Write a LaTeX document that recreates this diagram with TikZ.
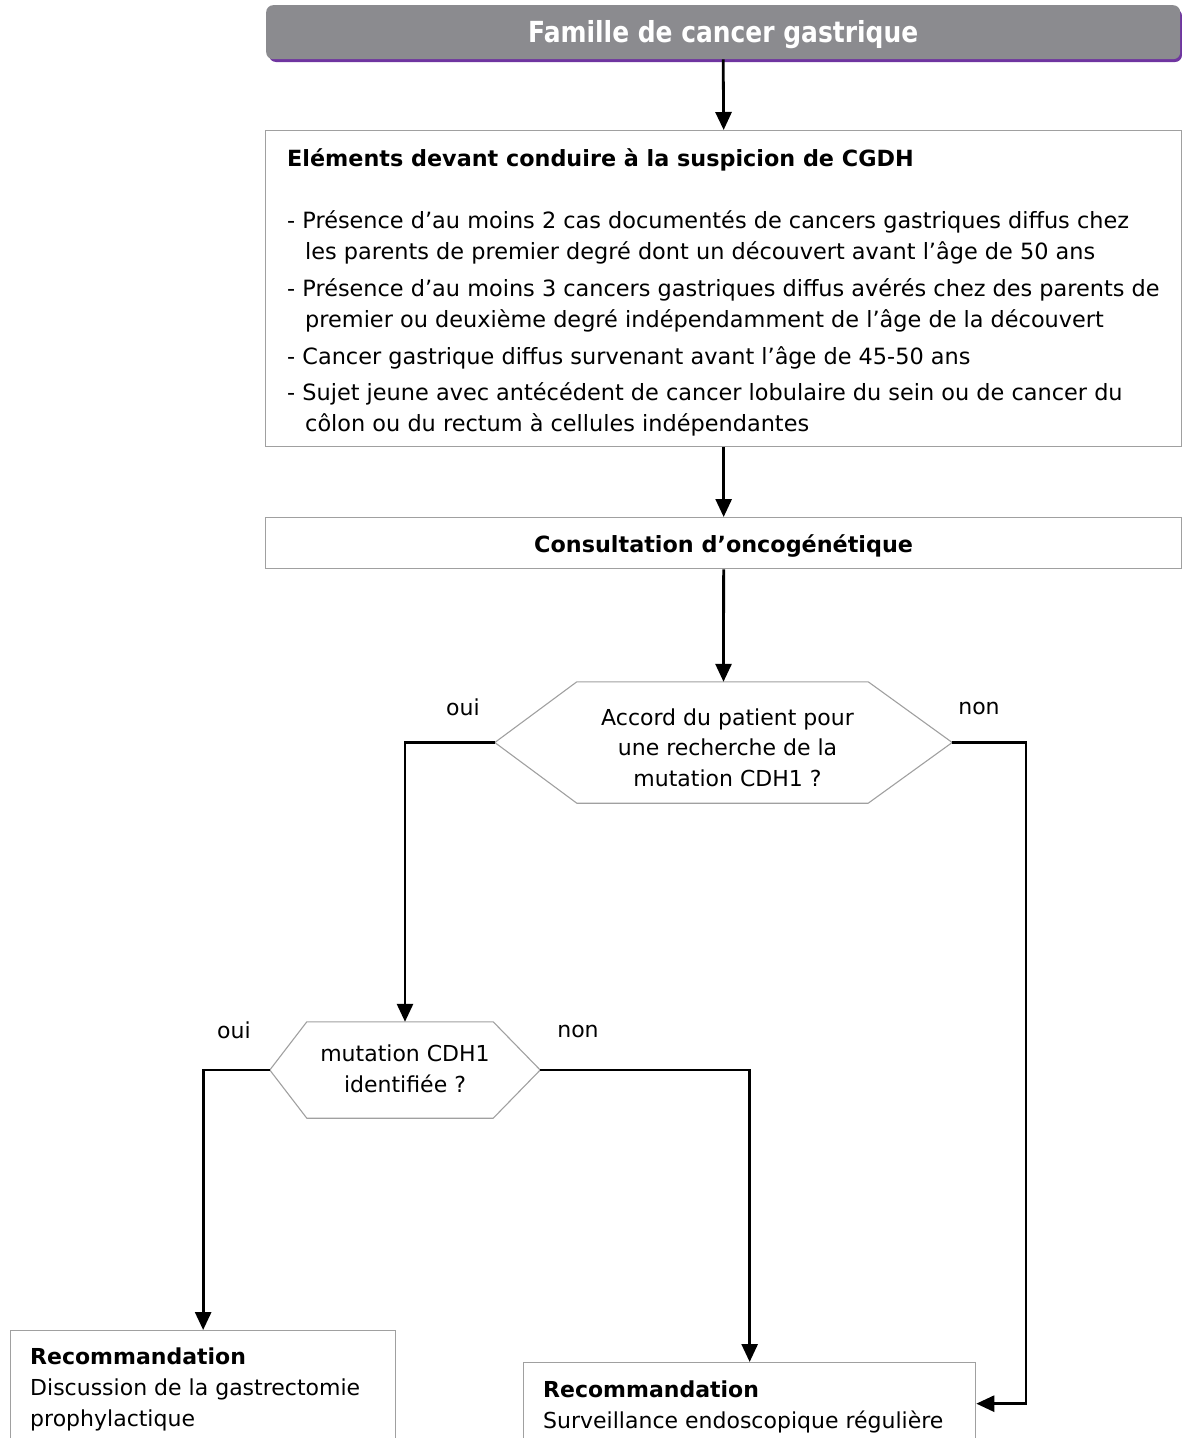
\documentclass[tikz,border=0pt]{standalone}
\usepackage{fontspec}
\setmainfont{DejaVu Sans}
\newfontfamily\titlefont{DejaVu Sans}[FakeStretch=0.86]
\usetikzlibrary{arrows.meta}
\definecolor{boxgray}{HTML}{A0A0A0}
\definecolor{titlegray}{HTML}{8B8B8F}
\definecolor{edgepurple}{HTML}{6F35A0}
\begin{document}
\begin{tikzpicture}[x=1pt,y=-1pt,
  box/.style={draw=boxgray,line width=1.3pt,fill=white,inner sep=0pt},
  hexline/.style={draw=boxgray,line width=1.1pt},
  conn/.style={line width=2.8pt,-{Triangle[length=18pt,width=16pt]}},
  txt/.style={inner sep=0pt,font=\fontsize{22}{31}\selectfont},
  btxt/.style={inner sep=0pt,font=\bfseries\fontsize{22.3}{31}\selectfont},
  hexnode/.style={inner sep=0pt,align=center,font=\fontsize{22}{30.5}\selectfont}]
\useasboundingbox (0,0) rectangle (1182,1438);
\clip (0,0) rectangle (1182,1438);
% title
\fill[edgepurple, rounded corners=7pt] (269,9) rectangle (1182,62);
\node[fill=titlegray, rounded corners=7pt, minimum width=914pt, minimum height=54pt,
  anchor=north west, text=white, inner sep=0pt, text height=24pt, text depth=3pt,
  font=\titlefont\bfseries\fontsize{29}{32}\selectfont] (fam) at (266,5) {Famille de cancer gastrique};
% elements box
\node[box, minimum width=916pt, minimum height=316pt, anchor=north west] (elem) at (265,130) {};
\node[btxt, anchor=base west] (elemtitle) at (287,166) {Eléments devant conduire à la suspicion de CGDH};
\node[txt, anchor=north west, align=left, font=\fontsize{22.4}{31}\selectfont] (elemlist) at (287,210)
  {- Présence d’au moins 2 cas documentés de cancers gastriques diffus chez\\
   \hspace*{18pt}les parents de premier degré dont un découvert avant l’âge de 50 ans\\[6pt]
   - Présence d’au moins 3 cancers gastriques diffus avérés chez des parents de\\
   \hspace*{18pt}premier ou deuxième degré indépendamment de l’âge de la découvert\\[6pt]
   - Cancer gastrique diffus survenant avant l’âge de 45-50 ans\\[5pt]
   - Sujet jeune avec antécédent de cancer lobulaire du sein ou de cancer du\\
   \hspace*{18pt}côlon ou du rectum à cellules indépendantes};
% consultation
\node[box, minimum width=916pt, minimum height=51pt, anchor=north west, text height=20pt, text depth=2pt,
  font=\bfseries\fontsize{22.3}{26}\selectfont] (consult) at (265,517) {Consultation d’oncogénétique};
% decision 1
\node[minimum width=457pt, minimum height=121pt, inner sep=0pt] (accord) at (723.5,742.5) {};
\draw[hexline] (accord.west) -- ([xshift=82pt]accord.north west) -- ([xshift=-84pt]accord.north east)
  -- (accord.east) -- ([xshift=-84pt]accord.south east) -- ([xshift=82pt]accord.south west) -- cycle;
\node[hexnode] (accordtext) at ([shift={(4pt,-5pt)}]accord.center)
  {Accord du patient pour\\une recherche de la\\mutation CDH1 ?};
\node[txt] (oui1) at (463,707) {oui};
\node[txt] (non1) at (979,708) {non};
% decision 2
\node[minimum width=270pt, minimum height=96pt, inner sep=0pt] (mut) at (405,1070) {};
\draw[hexline] (mut.west) -- ([xshift=37pt]mut.north west) -- ([xshift=-47pt]mut.north east)
  -- (mut.east) -- ([xshift=-47pt]mut.south east) -- ([xshift=37pt]mut.south west) -- cycle;
\node[hexnode] (muttext) at ([shift={(0pt,1pt)}]mut.center) {mutation CDH1\\identifiée ?};
\node[txt] (oui2) at (234,1030) {oui};
\node[txt] (non2) at (578,1031) {non};
% recommendations
\node[box, minimum width=385pt, minimum height=130pt, anchor=north west] (recA) at (10,1330) {};
\node[txt, anchor=north west, align=left] (recAtext) at (30,1348)
  {\textbf{Recommandation}\\Discussion de la gastrectomie\\prophylactique};
\node[box, minimum width=452pt, minimum height=82pt, anchor=north west] (recB) at (523,1362) {};
\node[txt, anchor=north west, align=left] (recBtext) at (543,1381)
  {\textbf{Recommandation}\\Surveillance endoscopique régulière};
% connectors
\coordinate (rturn) at (1026,742.5);
\draw[conn] (fam.south) -- (elem.north);
\draw[conn] (elem.south) -- (consult.north);
\draw[conn] (consult.south) -- (accord.north);
\draw[conn] (accord.west) -| (mut.north);
\draw[conn] (accord.east) -- (rturn) |- (recB.east);
\draw[conn] (mut.west) -| (recA.north);
\draw[conn] (mut.east) -| (recB.north);
\end{tikzpicture}
\end{document}
